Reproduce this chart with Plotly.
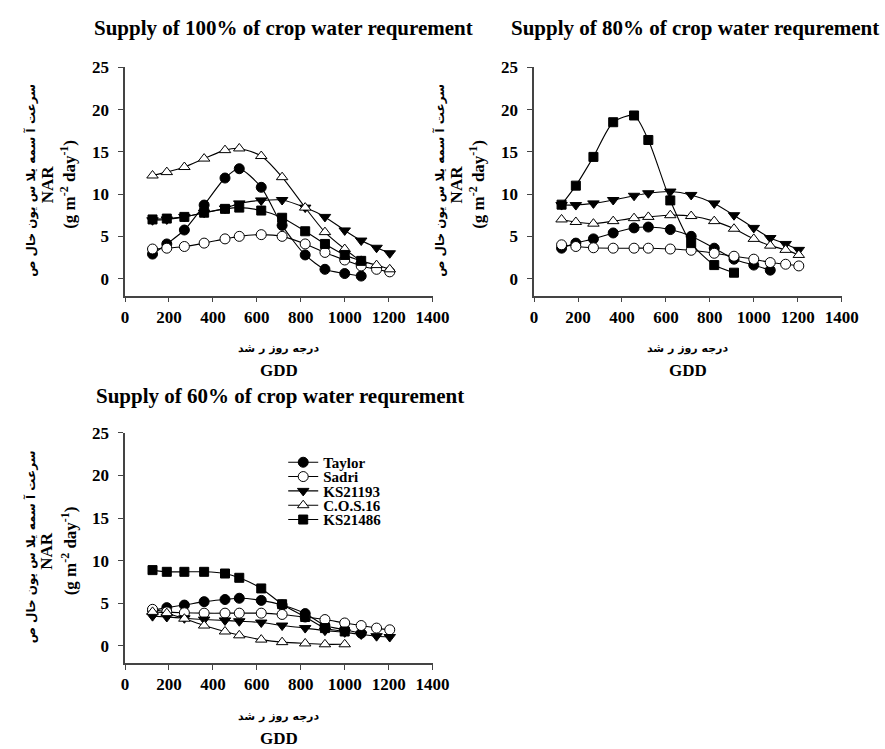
import plotly.graph_objects as go

# ---------------- data ----------------
gdd = [125, 190, 270, 360, 455, 520, 620, 715, 820, 910, 1000, 1075, 1145, 1205]

series_names = ["Taylor", "Sadri", "KS21193", "C.O.S.16", "KS21486"]

# Supply of 100%
taylor_100 = [2.9, 4.1, 5.75, 8.7, 11.9, 13.0, 10.8, 6.3, 2.8, 1.1, 0.6, 0.3]
sadri_100 = [3.5, 3.6, 3.8, 4.2, 4.7, 5.0, 5.2, 5.0, 4.1, 3.1, 2.2, 1.5, 1.1, 0.8]
ks21193_100 = [6.9, 7.0, 7.3, 7.8, 8.3, 8.9, 9.25, 9.3, 8.4, 7.3, 5.7, 4.5, 3.65, 3.0]
cos16_100 = [12.2, 12.6, 13.2, 14.2, 15.2, 15.4, 14.5, 12.0, 8.4, 5.5, 3.5, 2.1, 1.6, 1.1]
ks21486_100 = [7.0, 7.1, 7.3, 7.8, 8.25, 8.4, 8.05, 7.2, 5.6, 4.1, 2.8, 2.1]

# Supply of 80%
taylor_80 = [3.6, 4.2, 4.7, 5.4, 6.0, 6.1, 5.8, 5.0, 3.6, 2.3, 1.6, 1.0]
sadri_80 = [4.0, 3.8, 3.65, 3.6, 3.6, 3.6, 3.5, 3.35, 3.0, 2.65, 2.3, 1.9, 1.7, 1.5]
ks21193_80 = [8.7, 8.7, 8.9, 9.3, 9.8, 10.1, 10.3, 9.9, 8.9, 7.5, 6.0, 4.8, 4.1, 3.4]
cos16_80 = [7.0, 6.7, 6.5, 6.8, 7.15, 7.3, 7.5, 7.4, 6.8, 5.9, 4.7, 3.9, 3.4, 2.8]
ks21486_80 = [8.75, 11.0, 14.4, 18.5, 19.3, 16.4, 9.25, 4.2, 1.6, 0.7]

# Supply of 60%
taylor_60 = [4.2, 4.5, 4.8, 5.2, 5.45, 5.6, 5.35, 4.8, 3.8, 2.4, 1.9, 1.5]
sadri_60 = [4.3, 4.0, 3.9, 3.85, 3.85, 3.85, 3.85, 3.7, 3.4, 3.1, 2.7, 2.4, 2.1, 1.9]
ks21193_60 = [3.5, 3.4, 3.25, 3.1, 3.0, 2.9, 2.75, 2.4, 2.1, 1.8, 1.6, 1.35, 1.15, 1.05]
cos16_60 = [4.0, 3.85, 3.2, 2.4, 1.7, 1.25, 0.75, 0.45, 0.3, 0.2, 0.2]
ks21486_60 = [8.9, 8.7, 8.7, 8.7, 8.5, 8.0, 6.75, 4.9, 3.4, 2.1, 1.7]

panel_titles = ["Supply of 100% of crop water requrement",
                "Supply of 80% of crop water requrement",
                "Supply of 60% of crop water requrement"]
x_ticks = [0, 200, 400, 600, 800, 1000, 1200, 1400]
y_ticks = [0, 5, 10, 15, 20, 25]
fa_y_words = ["سرعت", "آ", "سمه", "یلا", "س", "یون", "خال", "ص"]
fa_x = "درجه روز ر شد"

# ---------------- styles ----------------
FONT = "Liberation Serif"
symbols = ["circle", "circle", "triangle-down", "triangle-up", "square"]
fills = ["black", "white", "black", "white", "black"]
msize = [10, 10, 10, 10, 9]

panels = [
    [taylor_100, sadri_100, ks21193_100, cos16_100, ks21486_100],
    [taylor_80, sadri_80, ks21193_80, cos16_80, ks21486_80],
    [taylor_60, sadri_60, ks21193_60, cos16_60, ks21486_60],
]

W, H = 885, 749
def px_x(v):
    return v / W
def px_y(v):
    return 1 - v / H

legend_rows = [459, 473.5, 488, 502.5, 517]
legend_ids = ["legend", "legend2", "legend3", "legend4", "legend5"]

fig = go.Figure()
axis_ids = [("x", "y"), ("x2", "y2"), ("x3", "y3")]
for p, data in enumerate(panels):
    xa, ya = axis_ids[p]
    for s, vals in enumerate(data):
        fig.add_trace(go.Scatter(
            x=gdd[:len(vals)], y=vals, mode="lines+markers",
            name="<b>" + series_names[s] + "</b>", xaxis=xa, yaxis=ya,
            showlegend=(p == 2), legend=legend_ids[s],
            line=dict(color="black", width=1.1, shape="spline", smoothing=0.7),
            marker=dict(symbol=symbols[s], size=msize[s], color=fills[s],
                        line=dict(color="black", width=1)),
        ))

dom = {
    "x": (124, 439), "x2": (543, 858), "x3": (124, 439),
    "y": (59, 290), "y2": (59, 290), "y3": (429, 662),
}

TICKFONT = dict(family=FONT, size=17, color="black", weight=700)
common_x = dict(range=[0, 1400], tickvals=x_ticks, ticktext=["<b>%d</b>" % v for v in x_ticks],
                showline=True, linecolor="#444", linewidth=1.5,
                ticks="outside", ticklen=5, tickcolor="#444", showgrid=False, zeroline=False,
                tickfont=TICKFONT, ticklabelstandoff=0)
common_y = dict(range=[-2, 25], tickvals=y_ticks, ticktext=["<b>%d</b>" % v for v in y_ticks],
                showline=True, linecolor="#444", linewidth=1.5,
                ticks="outside", ticklen=5, tickcolor="#444", showgrid=False, zeroline=False,
                tickfont=TICKFONT, ticklabelstandoff=6)

layout = dict(
    width=W, height=H, margin=dict(l=0, r=0, t=0, b=0),
    paper_bgcolor="white", plot_bgcolor="white",
    font=dict(family=FONT, color="black"),
)
for s, lid in enumerate(legend_ids):
    layout[lid] = dict(x=px_x(286), y=px_y(legend_rows[s]), xanchor="left", yanchor="middle",
                       font=dict(family=FONT, size=15, color="black"),
                       bgcolor="rgba(0,0,0,0)", borderwidth=0, itemwidth=30,
                       tracegroupgap=0)
for k in ["x", "x2", "x3"]:
    name = "xaxis" if k == "x" else "xaxis" + k[1:]
    ya = "y" + k[1:]
    layout[name] = dict(common_x, domain=[px_x(dom[k][0]), px_x(dom[k][1])], anchor=ya)
for k in ["y", "y2", "y3"]:
    name = "yaxis" if k == "y" else "yaxis" + k[1:]
    xa = "x" + k[1:]
    lo, hi = dom[k]
    layout[name] = dict(common_y, domain=[px_y(hi), px_y(lo)], anchor=xa)
fig.update_layout(**layout)

annotations = []
title_pos = [(286, 19), (708, 19), (283, 392)]
for t, (cx, cy) in zip(panel_titles, title_pos):
    annotations.append(dict(text="<b>" + t + "</b>", x=px_x(cx), y=px_y(cy), xref="paper", yref="paper",
                            showarrow=False, font=dict(family=FONT, size=21, color="black"),
                            xanchor="center", yanchor="middle"))

fa_y = "\u00a0".join(fa_y_words)
for (x0, x1), (y0, y1) in [(dom["x"], dom["y"]), (dom["x2"], dom["y2"]), (dom["x3"], dom["y3"])]:
    cy = (y0 + y1) / 2 + 3
    annotations.append(dict(text="<b>" + fa_y + "</b>", x=px_x(x0 - 96), y=px_y(cy - 4), xref="paper", yref="paper",
                            showarrow=False, textangle=-90, font=dict(family="DejaVu Sans", size=12, color="black"),
                            xanchor="center", yanchor="middle"))
    annotations.append(dict(text="<b>NAR</b>", x=px_x(x0 - 80), y=px_y(cy), xref="paper", yref="paper",
                            showarrow=False, textangle=-90, font=dict(family=FONT, size=17, color="black"),
                            xanchor="center", yanchor="middle"))
    annotations.append(dict(text="<b>(g m<sup>-2</sup> day<sup>-1</sup>)</b>", x=px_x(x0 - 58), y=px_y(cy),
                            xref="paper", yref="paper",
                            showarrow=False, textangle=-90, font=dict(family=FONT, size=17, color="black"),
                            xanchor="center", yanchor="middle"))
    cx = (x0 + x1) / 2
    annotations.append(dict(text="<b>" + fa_x + "</b>", x=px_x(cx), y=px_y(y1 + 54), xref="paper", yref="paper",
                            showarrow=False, font=dict(family="DejaVu Sans", size=11, color="black"),
                            xanchor="center", yanchor="middle"))
    annotations.append(dict(text="<b>GDD</b>", x=px_x(cx), y=px_y(y1 + 76), xref="paper", yref="paper",
                            showarrow=False, font=dict(family=FONT, size=17, color="black"),
                            xanchor="center", yanchor="middle"))
fig.update_layout(annotations=annotations)

fig.write_html("out.html")
